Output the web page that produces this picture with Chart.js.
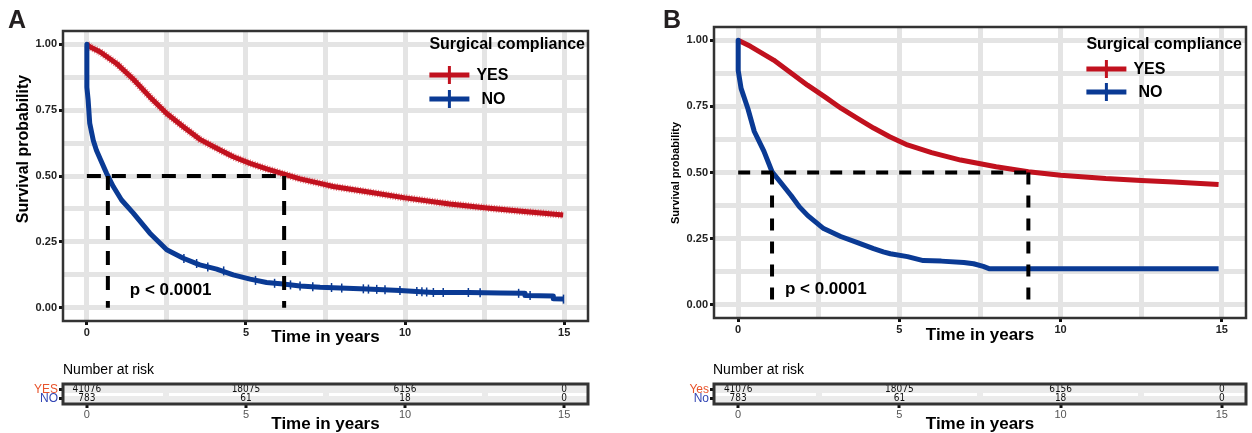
<!DOCTYPE html>
<html>
<head>
<meta charset="utf-8">
<script src="https://cdn.jsdelivr.net/npm/chart.js@4.4.1/dist/chart.umd.min.js"></script>
<style>
  html, body { margin: 0; padding: 0; background: #fff; overflow: hidden; }
  #fig { position: relative; width: 1252px; height: 433px; }
  canvas { position: absolute; }
</style>
</head>
<body>
<div id="fig">
  <canvas id="km-a" width="600" height="350" style="left:0;top:0"></canvas>
  <canvas id="km-b" width="612" height="350" style="left:640px;top:0"></canvas>
  <canvas id="risk-a" width="600" height="78" style="left:0;top:355px"></canvas>
  <canvas id="risk-b" width="612" height="78" style="left:640px;top:355px"></canvas>
</div>
<script>
// axes
const xMajor = [0, 5, 10, 15];
const xMinor = [2.5, 7.5, 12.5];
const yMajor = [0, 0.25, 0.5, 0.75, 1];
const yMinor = [0.125, 0.375, 0.625, 0.875];

// Panel A - curves
const timeYesA = [0, 0.09, 0.41, 0.93, 1.46, 1.98, 2.51, 3.03, 3.55, 4.08, 4.6, 5.13, 5.65, 6.17, 6.7, 7.33, 7.74, 8.8, 10.0, 11.4, 12.57, 13.83, 14.97];
const survYesA = [1, 0.99, 0.971, 0.927, 0.867, 0.8, 0.737, 0.687, 0.639, 0.605, 0.573, 0.548, 0.527, 0.508, 0.489, 0.472, 0.46, 0.44, 0.417, 0.394, 0.379, 0.364, 0.352];
const timeNoA = [0, 0, 0.04, 0.09, 0.2, 0.3, 0.41, 0.62, 0.83, 1.09, 1.46, 1.98, 2.51, 3.03, 3.55, 4.08, 4.6, 5.13, 5.65, 6.17, 6.7, 7.33, 7.74, 8.8, 9.84, 10.88, 12.0, 13.0, 13.77, 13.77, 14.66, 14.66, 14.97];
const survNoA = [1, 0.837, 0.788, 0.7, 0.636, 0.598, 0.567, 0.51, 0.46, 0.409, 0.359, 0.283, 0.22, 0.188, 0.163, 0.147, 0.125, 0.109, 0.096, 0.09, 0.083, 0.078, 0.076, 0.071, 0.066, 0.058, 0.058, 0.056, 0.055, 0.047, 0.045, 0.034, 0.033];
const censorTimeNoA = [3.05, 3.45, 3.8, 4.3, 5.3, 5.9, 6.4, 6.7, 7.1, 7.69, 8.01, 8.69, 8.85, 9.11, 9.37, 9.84, 10.37, 10.53, 10.68, 10.89, 11.2, 11.99, 12.36, 13.57, 13.93, 14.98];
const censorSurvNoA = [0.187, 0.168, 0.155, 0.14, 0.104, 0.093, 0.087, 0.083, 0.08, 0.077, 0.075, 0.072, 0.071, 0.07, 0.069, 0.066, 0.062, 0.061, 0.06, 0.058, 0.058, 0.058, 0.057, 0.055, 0.047, 0.033];
const medianA = { yes: 6.2, no: 0.66 };
const pValueA = [1.35, 0.068];

// Panel B
const timeYesB = [0, 0.38, 1.1, 1.6, 2.15, 2.7, 3.2, 3.7, 4.2, 4.7, 5.25, 6.0, 6.9, 8.0, 9.0, 10.0, 11.4, 12.5, 13.5, 14.9];
const survYesB = [1, 0.977, 0.925, 0.88, 0.83, 0.785, 0.742, 0.705, 0.668, 0.635, 0.604, 0.575, 0.547, 0.522, 0.503, 0.49, 0.477, 0.47, 0.464, 0.455];
const timeNoB = [0, 0, 0.09, 0.3, 0.5, 0.8, 1.05, 1.3, 1.64, 1.9, 2.16, 2.65, 3.18, 3.7, 4.2, 4.5, 4.72, 5.25, 5.74, 6.3, 7.0, 7.3, 7.6, 7.8, 14.9];
const survNoB = [1, 0.886, 0.818, 0.742, 0.655, 0.58, 0.503, 0.465, 0.413, 0.37, 0.337, 0.288, 0.258, 0.235, 0.212, 0.2, 0.193, 0.182, 0.167, 0.165, 0.16, 0.155, 0.145, 0.136, 0.136];
const medianB = { yes: 9.0, no: 1.05 };
const pValueB = [1.45, 0.06];

// number at risk
const riskTimes = [0, 5, 10, 15];
const riskYesA = [41076, 18075, 6156, 0];
const riskNoA = [783, 61, 18, 0];
const riskYesB = [41076, 18075, 6156, 0];
const riskNoB = [783, 61, 18, 0];

const RED = '#c1111e';
const BLUE = '#0a3a94';
const GRID = '#e4e4e4';
const SANS = "'Liberation Sans', Arial, sans-serif";
const NARROW = "'Liberation Sans Narrow', 'DejaVu Sans Condensed', sans-serif";

Chart.defaults.font.family = SANS;

function pts(xs, ys) {
  return xs.map((x, i) => ({ x, y: ys[i] }));
}

function sortNum(a) {
  return a.slice().sort((p, q) => p - q);
}

// white/grey panel fill before grid, dark frame on top
const panelBox = {
  id: 'panelBox',
  beforeDraw(chart, args, opts) {
    const { ctx, chartArea: a } = chart;
    ctx.save();
    ctx.fillStyle = opts.bg || '#fff';
    ctx.fillRect(a.left, a.top, a.width, a.height);
    ctx.restore();
  },
  afterDraw(chart, args, opts) {
    const { ctx, chartArea: a } = chart;
    ctx.save();
    ctx.strokeStyle = '#333';
    ctx.lineWidth = opts.width || 2.5;
    ctx.strokeRect(a.left, a.top, a.width, a.height);
    ctx.restore();
  },
};

const notes = {
  id: 'notes',
  afterDraw(chart, args, opts) {
    const { ctx, scales } = chart;
    (opts.items || []).forEach((it) => {
      const x = it.px ? it.px[0] : scales.x.getPixelForValue(it.at[0]);
      const y = it.px ? it.px[1] : scales.y.getPixelForValue(it.at[1]);
      ctx.save();
      ctx.font = it.font;
      ctx.fillStyle = it.color || '#000';
      ctx.textAlign = it.align || 'center';
      ctx.textBaseline = 'middle';
      ctx.translate(x, y);
      if (it.rotate) ctx.rotate(it.rotate);
      ctx.fillText(it.text, 0, 0);
      ctx.restore();
    });
  },
};

// "Surgical compliance" legend inside the panel
const kmLegend = {
  id: 'kmLegend',
  afterDraw(chart, args, opts) {
    if (!opts.rows) return;
    const { ctx, chartArea: a } = chart;
    ctx.save();
    ctx.font = 'bold 16px ' + SANS;
    ctx.fillStyle = '#000';
    ctx.textBaseline = 'middle';
    ctx.textAlign = 'right';
    const right = a.right + opts.dx;
    ctx.fillText('Surgical compliance', right, a.top + opts.titleY);
    const left = right - ctx.measureText('Surgical compliance').width;
    ctx.textAlign = 'left';
    opts.rows.forEach((r) => {
      const y = a.top + r.y;
      ctx.strokeStyle = r.color;
      ctx.lineWidth = 5;
      ctx.beginPath();
      ctx.moveTo(left, y);
      ctx.lineTo(left + 40, y);
      ctx.stroke();
      ctx.lineWidth = 3;
      ctx.beginPath();
      ctx.moveTo(left + 20, y - 9);
      ctx.lineTo(left + 20, y + 9);
      ctx.stroke();
      ctx.font = 'bold 16px ' + SANS;
      ctx.fillText(r.label, left + r.textDx, y + 1);
    });
    ctx.restore();
  },
};

const riskLabels = {
  id: 'riskLabels',
  afterDatasetsDraw(chart) {
    const { ctx } = chart;
    chart.data.datasets.forEach((ds, i) => {
      if (!ds.riskLabels) return;
      ctx.save();
      ctx.font = '10px ' + NARROW;
      ctx.fillStyle = '#111';
      ctx.textAlign = 'center';
      ctx.textBaseline = 'middle';
      chart.getDatasetMeta(i).data.forEach((pt, j) => {
        ctx.fillText(String(ds.riskLabels[j]), pt.x, pt.y);
      });
      ctx.restore();
    });
  },
};

const transparent = 'rgba(0,0,0,0)';

function dashed(xs, ys, dash) {
  return {
    data: pts(xs, ys),
    borderColor: '#000',
    borderWidth: 4,
    borderDash: dash,
    pointRadius: 0,
  };
}

function kmChart(id, cfg) {
  const datasets = [
    dashed([0, cfg.median.yes], [0.5, 0.5], cfg.dash),
    dashed([cfg.median.no, cfg.median.no], [0.5, 0], cfg.dash),
    dashed([cfg.median.yes, cfg.median.yes], [0.5, 0], cfg.dash),
  ];
  if (cfg.censorNo) {
    datasets.push({
      data: cfg.censorNo,
      showLine: false,
      pointStyle: 'line',
      rotation: 90,
      pointRadius: 4.5,
      borderColor: BLUE,
      borderWidth: 1.5,
    });
  }
  datasets.push(
    { data: cfg.no, borderColor: BLUE, borderWidth: 5, pointRadius: 0, borderJoinStyle: 'round' },
    { data: cfg.yes, borderColor: RED, borderWidth: 5, pointRadius: 0, borderJoinStyle: 'round' }
  );
  if (cfg.hatch) {
    datasets.push({ data: cfg.yes, borderColor: '#e2777d', borderWidth: 7.5, borderDash: [1, 1.6], pointRadius: 0 });
  }

  return new Chart(document.getElementById(id), {
    type: 'line',
    data: { datasets },
    options: {
      responsive: false,
      animation: false,
      events: [],
      layout: { padding: { top: cfg.top, right: cfg.right, left: 0, bottom: 0 } },
      plugins: {
        legend: { display: false },
        tooltip: { enabled: false },
        panelBox: { bg: '#fff', width: 2.5 },
        notes: { items: cfg.notes },
        kmLegend: cfg.legend,
      },
      scales: {
        x: {
          type: 'linear',
          min: -0.75,
          max: 15.75,
          afterBuildTicks: (s) => { s.ticks = sortNum(xMajor.concat(xMinor)).map((v) => ({ value: v })); },
          afterFit: (s) => { s.height = cfg.xHeight; },
          ticks: {
            autoSkip: false,
            maxRotation: 0,
            padding: 1,
            color: '#222',
            font: { size: 11, weight: 'bold' },
            callback: (v) => (xMajor.includes(v) ? String(v) : ''),
          },
          grid: {
            color: GRID,
            lineWidth: 5,
            tickLength: 4,
            tickWidth: 3,
            tickColor: (c) => (c.tick && xMajor.includes(c.tick.value) ? '#111' : transparent),
          },
          border: { display: false },
          title: {
            display: true,
            text: 'Time in years',
            color: '#000',
            font: { size: 17, weight: 'bold', lineHeight: 1 },
            padding: { top: 0, bottom: cfg.xTitlePad },
          },
        },
        y: {
          type: 'linear',
          min: -0.05,
          max: 1.05,
          afterBuildTicks: (s) => { s.ticks = sortNum(yMajor.concat(yMinor)).map((v) => ({ value: v })); },
          afterFit: (s) => { s.width = cfg.yWidth; },
          ticks: {
            autoSkip: false,
            padding: 2,
            color: '#222',
            font: { size: 11, weight: 'bold' },
            callback: (v) => (yMajor.includes(v) ? v.toFixed(2) : ''),
          },
          grid: {
            color: GRID,
            lineWidth: 5,
            tickLength: 4,
            tickWidth: 3,
            tickColor: (c) => (c.tick && yMajor.includes(c.tick.value) ? '#111' : transparent),
          },
          border: { display: false },
        },
      },
    },
    plugins: [panelBox, notes, kmLegend],
  });
}

function riskChart(id, cfg) {
  return new Chart(document.getElementById(id), {
    type: 'line',
    data: {
      datasets: [
        { data: pts(riskTimes, riskTimes.map(() => 2)), riskLabels: cfg.yes, showLine: false, pointRadius: 0 },
        { data: pts(riskTimes, riskTimes.map(() => 1)), riskLabels: cfg.no, showLine: false, pointRadius: 0 },
      ],
    },
    options: {
      responsive: false,
      animation: false,
      events: [],
      layout: { padding: { top: 29, right: cfg.right, left: 0, bottom: 0 } },
      plugins: {
        legend: { display: false },
        tooltip: { enabled: false },
        panelBox: { bg: '#ebebeb', width: 3 },
        notes: { items: [{ text: 'Number at risk', px: [cfg.titleX, 15], font: '14px ' + SANS, align: 'left', color: '#000' }] },
      },
      scales: {
        x: {
          type: 'linear',
          min: -0.75,
          max: 15.75,
          afterBuildTicks: (s) => { s.ticks = sortNum(xMajor.concat(xMinor)).map((v) => ({ value: v })); },
          afterFit: (s) => { s.height = 29; },
          ticks: {
            autoSkip: false,
            maxRotation: 0,
            padding: 0,
            color: '#555',
            font: { size: 11 },
            callback: (v) => (xMajor.includes(v) ? String(v) : ''),
          },
          grid: {
            z: -1,
            color: (c) => (c.tick && xMinor.includes(c.tick.value) ? '#ebebeb' : transparent),
            lineWidth: 6,
            tickLength: 4,
            tickWidth: 3,
            tickColor: (c) => (c.tick && xMajor.includes(c.tick.value) ? '#111' : transparent),
          },
          border: { display: false },
          title: {
            display: true,
            text: 'Time in years',
            color: '#000',
            font: { size: 17, weight: 'bold', lineHeight: 1 },
            padding: { top: 0, bottom: 0 },
          },
        },
        y: {
          type: 'linear',
          min: 0.45,
          max: 2.55,
          afterBuildTicks: (s) => { s.ticks = [1, 1.5, 2].map((v) => ({ value: v })); },
          afterFit: (s) => { s.width = cfg.yWidth; },
          ticks: {
            autoSkip: false,
            padding: 1,
            font: { size: 12 },
            color: (c) => (c.tick.value === 2 ? '#e8532b' : '#3346b5'),
            callback: (v) => (v === 2 ? cfg.rowNames[0] : v === 1 ? cfg.rowNames[1] : ''),
          },
          grid: {
            z: -2,
            color: (c) => (c.tick && c.tick.value === 1.5 ? '#fff' : transparent),
            lineWidth: 3,
            tickLength: 4,
            tickWidth: 3,
            tickColor: (c) => (c.tick && c.tick.value !== 1.5 ? '#111' : transparent),
          },
          border: { display: false },
        },
      },
    },
    plugins: [panelBox, notes, riskLabels],
  });
}

kmChart('km-a', {
  yes: pts(timeYesA, survYesA),
  no: pts(timeNoA, survNoA),
  censorNo: pts(censorTimeNoA, censorSurvNoA),
  hatch: true,
  median: medianA,
  dash: [14, 11],
  top: 31,
  right: 12,
  yWidth: 63,
  xHeight: 29,
  xTitlePad: 4.5,
  notes: [
    { text: 'A', px: [17, 21], font: 'bold 25px ' + SANS, color: '#231f20' },
    { text: 'Survival probability', px: [24, 149], rotate: -Math.PI / 2, font: 'bold 16px ' + SANS },
    { text: 'p < 0.0001', at: pValueA, font: 'bold 17px ' + SANS, align: 'left' },
  ],
  legend: {
    dx: -3,
    titleY: 14,
    rows: [
      { label: 'YES', color: RED, y: 44, textDx: 47 },
      { label: 'NO', color: BLUE, y: 68, textDx: 52 },
    ],
  },
});

kmChart('km-b', {
  yes: pts(timeYesB, survYesB),
  no: pts(timeNoB, survNoB),
  median: medianB,
  dash: [12, 11],
  top: 27,
  right: 6,
  yWidth: 74,
  xHeight: 32,
  xTitlePad: 6.5,
  notes: [
    { text: 'B', px: [32, 21], font: 'bold 25px ' + SANS, color: '#231f20' },
    { text: 'Survival probability', px: [36, 173], rotate: -Math.PI / 2, font: 'bold 11px ' + SANS },
    { text: 'p < 0.0001', at: pValueB, font: 'bold 17px ' + SANS, align: 'left' },
  ],
  legend: {
    dx: -4,
    titleY: 18,
    rows: [
      { label: 'YES', color: RED, y: 42, textDx: 47 },
      { label: 'NO', color: BLUE, y: 65, textDx: 52 },
    ],
  },
});

riskChart('risk-a', { yes: riskYesA, no: riskNoA, rowNames: ['YES', 'NO'], right: 12, yWidth: 63, titleX: 63 });
riskChart('risk-b', { yes: riskYesB, no: riskNoB, rowNames: ['Yes', 'No'], right: 6, yWidth: 74, titleX: 73 });
</script>
</body>
</html>
